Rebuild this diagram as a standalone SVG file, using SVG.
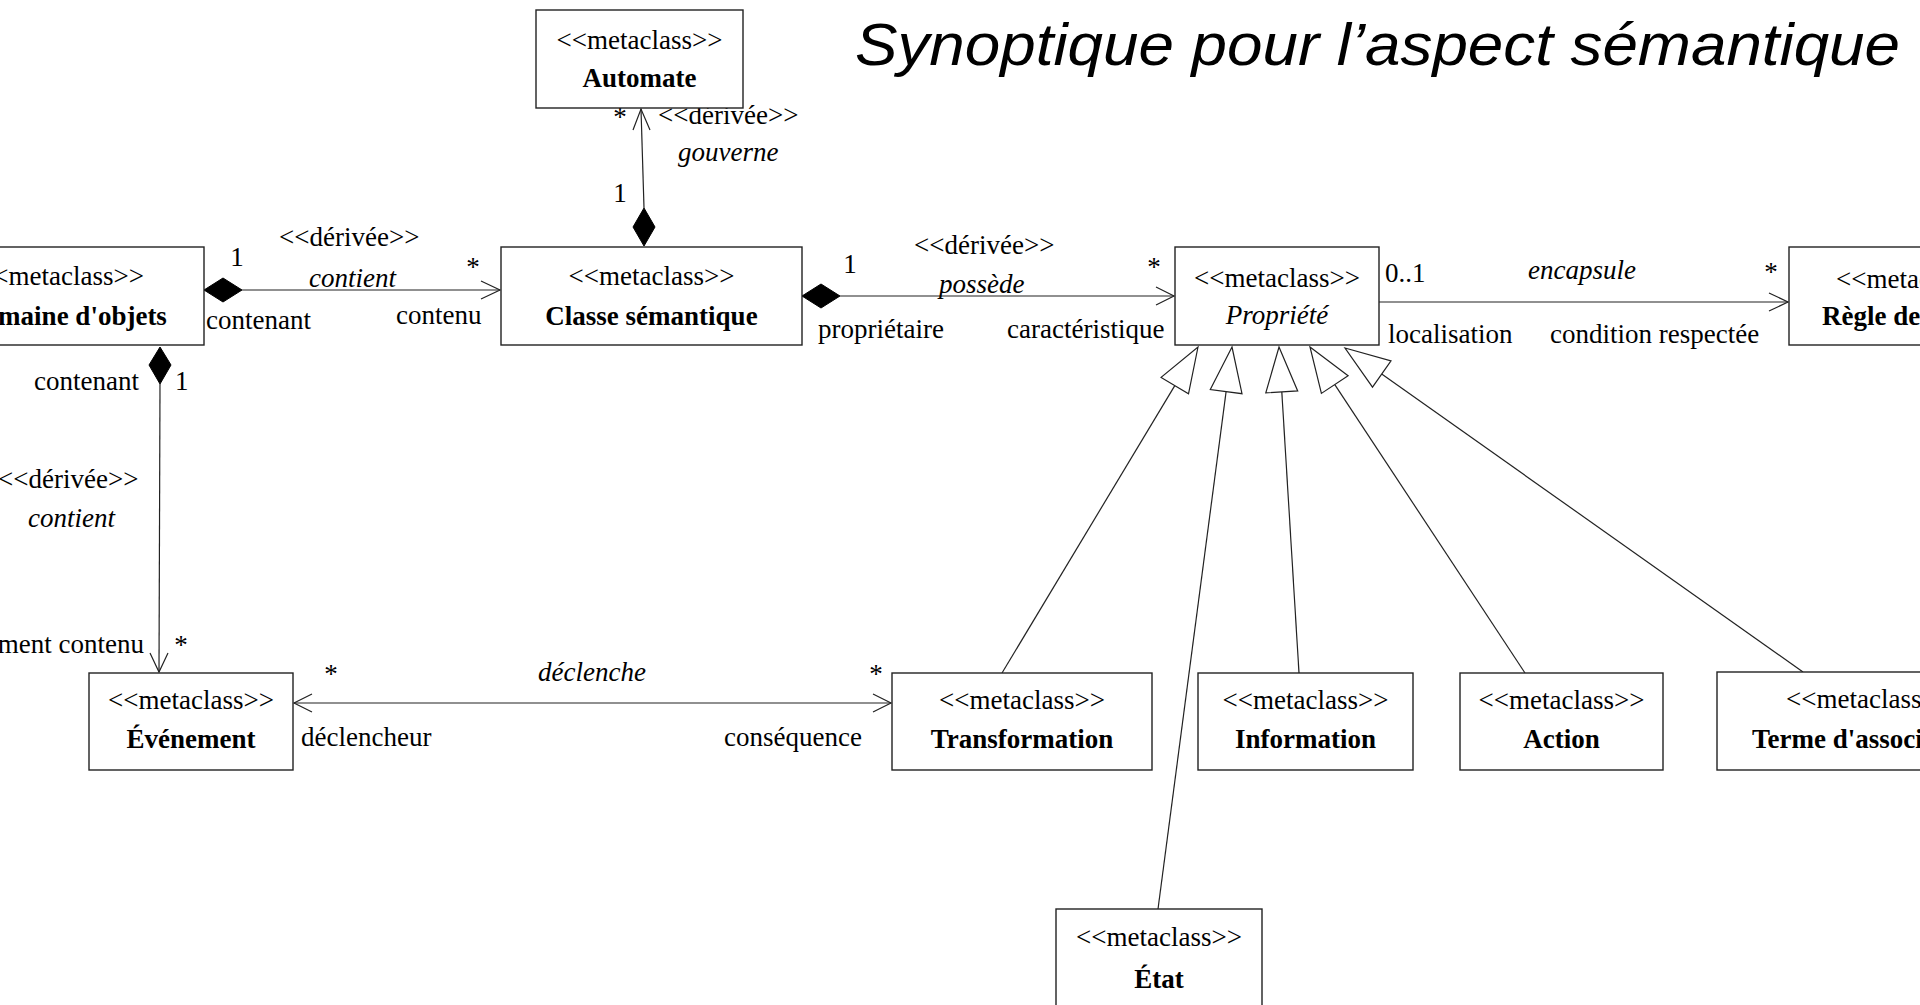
<svg xmlns="http://www.w3.org/2000/svg" width="1920" height="1005" viewBox="0 0 1920 1005">
<style>
text{font-family:"Liberation Serif","Times New Roman",serif;font-size:27px;fill:#000}
.c{text-anchor:middle}
.b{font-weight:bold}
.i{font-style:italic}
.box{fill:#fff;stroke:#222;stroke-width:1.4}
.ln{fill:none;stroke:#222;stroke-width:1.2}
.dia{fill:#000;stroke:#000;stroke-width:1}
.tri{fill:#fff;stroke:#222;stroke-width:1.2}
.title{font-family:"Liberation Sans",Arial,sans-serif;font-style:italic;font-size:60px}
</style>
<rect x="0" y="0" width="1920" height="1005" fill="#fff"/>
<text class="title" x="855" y="65" textLength="1045" lengthAdjust="spacingAndGlyphs">Synoptique pour l’aspect sémantique</text>

<g id="connectors">
  <!-- Automate - Classe semantique -->
  <line class="ln" x1="641" y1="109" x2="644" y2="208"/>
  <polyline class="ln" points="633,130 641,109 650,130"/>
  <polygon class="dia" points="644,208 655,227 644,246 633,227"/>
  <text x="620" y="126" class="c">*</text>
  <text x="658" y="124">&lt;&lt;dérivée&gt;&gt;</text>
  <text x="678" y="161" class="i">gouverne</text>
  <text x="620" y="202" class="c">1</text>

  <!-- Domaine - Classe -->
  <polygon class="dia" points="204,290 223,278 242,290 223,302"/>
  <line class="ln" x1="242" y1="290" x2="500" y2="290"/>
  <polyline class="ln" points="481,281 500,290 481,299"/>
  <text x="237" y="266" class="c">1</text>
  <text x="279" y="246">&lt;&lt;dérivée&gt;&gt;</text>
  <text x="309" y="287" class="i">contient</text>
  <text x="473" y="276" class="c">*</text>
  <text x="206" y="329">contenant</text>
  <text x="396" y="324">contenu</text>

  <!-- Classe - Propriete -->
  <polygon class="dia" points="802,296 821,284 840,296 821,308"/>
  <line class="ln" x1="840" y1="296" x2="1174" y2="296"/>
  <polyline class="ln" points="1156,287 1174,296 1156,305"/>
  <text x="850" y="273" class="c">1</text>
  <text x="914" y="254">&lt;&lt;dérivée&gt;&gt;</text>
  <text x="939" y="293" class="i">possède</text>
  <text x="1154" y="276" class="c">*</text>
  <text x="818" y="338">propriétaire</text>
  <text x="1007" y="338">caractéristique</text>

  <!-- Propriete - Regle -->
  <line class="ln" x1="1379" y1="302" x2="1788" y2="302"/>
  <polyline class="ln" points="1769,293 1788,302 1769,311"/>
  <text x="1385" y="282">0..1</text>
  <text x="1528" y="279" class="i">encapsule</text>
  <text x="1771" y="281" class="c">*</text>
  <text x="1388" y="343">localisation</text>
  <text x="1550" y="343">condition respectée</text>

  <!-- Domaine - Evenement -->
  <polygon class="dia" points="160,347 171,365 160,384 149,365"/>
  <line class="ln" x1="160" y1="384" x2="159" y2="672"/>
  <polyline class="ln" points="150,653 159,672 168,653"/>
  <text x="34" y="390">contenant</text>
  <text x="175" y="390">1</text>
  <text x="-2" y="488">&lt;&lt;dérivée&gt;&gt;</text>
  <text x="28" y="527" class="i">contient</text>
  <text x="144" y="653" text-anchor="end">événement contenu</text>
  <text x="181" y="654" class="c">*</text>

  <!-- Evenement - Transformation -->
  <line class="ln" x1="294" y1="703" x2="891" y2="703"/>
  <polyline class="ln" points="312,694 294,703 312,712"/>
  <polyline class="ln" points="873,694 891,703 873,712"/>
  <text x="331" y="683" class="c">*</text>
  <text x="538" y="681" class="i">déclenche</text>
  <text x="876" y="683" class="c">*</text>
  <text x="301" y="746">déclencheur</text>
  <text x="724" y="746">conséquence</text>

  <!-- Generalizations to Propriete -->
  <line class="ln" x1="1174.8" y1="385.6" x2="1002" y2="673"/>
  <polygon class="tri" points="1198,347 1188.5,393.8 1161.1,377.4"/>
  <line class="ln" x1="1226.1" y1="391.6" x2="1158" y2="909"/>
  <polygon class="tri" points="1232,347 1242,393.7 1210.3,389.5"/>
  <line class="ln" x1="1281.8" y1="391.9" x2="1299" y2="673"/>
  <polygon class="tri" points="1279,347 1297.7,390.9 1265.8,392.9"/>
  <line class="ln" x1="1334.8" y1="384.6" x2="1525" y2="673"/>
  <polygon class="tri" points="1310,347 1348.1,375.8 1321.4,393.4"/>
  <line class="ln" x1="1381.7" y1="374" x2="1803" y2="672"/>
  <polygon class="tri" points="1345,348 1391,360.9 1372.5,387.1"/>
</g>

<g id="automate">
  <rect class="box" x="536" y="10" width="207" height="98"/>
  <text x="639.5" y="49" class="c">&lt;&lt;metaclass&gt;&gt;</text>
  <text x="639.5" y="87" class="c b">Automate</text>
</g>
<g id="domaine">
  <rect class="box" x="-82" y="247" width="286" height="98"/>
  <text x="61" y="285" class="c">&lt;&lt;metaclass&gt;&gt;</text>
  <text x="66" y="325" class="c b">Domaine d'objets</text>
</g>
<g id="classe">
  <rect class="box" x="501" y="247" width="301" height="98"/>
  <text x="651.5" y="285" class="c">&lt;&lt;metaclass&gt;&gt;</text>
  <text x="651.5" y="325" class="c b">Classe sémantique</text>
</g>
<g id="propriete">
  <rect class="box" x="1175" y="247" width="204" height="98"/>
  <text x="1277" y="287" class="c">&lt;&lt;metaclass&gt;&gt;</text>
  <text x="1277" y="324" class="c i">Propriété</text>
</g>
<g id="regle">
  <rect class="box" x="1789" y="247" width="280" height="98"/>
  <text x="1836" y="288">&lt;&lt;metaclass&gt;&gt;</text>
  <text x="1822" y="325" class="b">Règle de</text>
</g>
<g id="evenement">
  <rect class="box" x="89" y="673" width="204" height="97"/>
  <text x="191" y="709" class="c">&lt;&lt;metaclass&gt;&gt;</text>
  <text x="191" y="748" class="c b">Événement</text>
</g>
<g id="transformation">
  <rect class="box" x="892" y="673" width="260" height="97"/>
  <text x="1022" y="709" class="c">&lt;&lt;metaclass&gt;&gt;</text>
  <text x="1022" y="748" class="c b">Transformation</text>
</g>
<g id="information">
  <rect class="box" x="1198" y="673" width="215" height="97"/>
  <text x="1305.5" y="709" class="c">&lt;&lt;metaclass&gt;&gt;</text>
  <text x="1305.5" y="748" class="c b">Information</text>
</g>
<g id="action">
  <rect class="box" x="1460" y="673" width="203" height="97"/>
  <text x="1561.5" y="709" class="c">&lt;&lt;metaclass&gt;&gt;</text>
  <text x="1561.5" y="748" class="c b">Action</text>
</g>
<g id="terme">
  <rect class="box" x="1717" y="672" width="320" height="98"/>
  <text x="1786" y="708">&lt;&lt;metaclass&gt;&gt;</text>
  <text x="1752" y="748" class="b">Terme d'association</text>
</g>
<g id="etat">
  <rect class="box" x="1056" y="909" width="206" height="120"/>
  <text x="1159" y="946" class="c">&lt;&lt;metaclass&gt;&gt;</text>
  <text x="1159" y="988" class="c b">État</text>
</g>
</svg>
